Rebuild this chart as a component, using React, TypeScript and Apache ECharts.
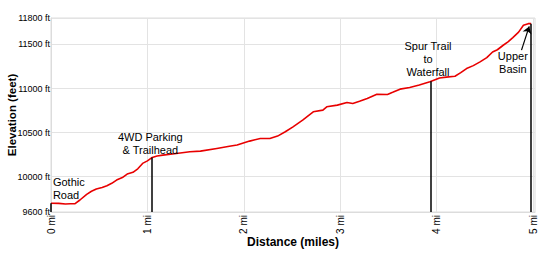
import React, { useEffect, useRef } from "react";
import * as echarts from "echarts";

const distance = [0, 0.08, 0.15, 0.2, 0.25, 0.3, 0.37, 0.42, 0.47, 0.53, 0.58, 0.63, 0.68, 0.74, 0.79, 0.85, 0.9, 0.95, 1.0, 1.05, 1.1, 1.16, 1.3, 1.44, 1.55, 1.72, 1.85, 1.93, 2.06, 2.17, 2.27, 2.35, 2.43, 2.51, 2.61, 2.72, 2.82, 2.86, 2.97, 3.07, 3.13, 3.2, 3.28, 3.38, 3.49, 3.55, 3.62, 3.72, 3.82, 3.93, 4.03, 4.1, 4.19, 4.25, 4.31, 4.38, 4.45, 4.52, 4.58, 4.63, 4.69, 4.74, 4.79, 4.85, 4.9, 4.95, 4.98];
const elevation = [9700, 9698, 9690, 9694, 9695, 9736, 9800, 9835, 9860, 9878, 9898, 9925, 9962, 9990, 10030, 10050, 10090, 10151, 10180, 10219, 10235, 10245, 10264, 10283, 10290, 10321, 10345, 10359, 10404, 10434, 10434, 10461, 10510, 10566, 10642, 10736, 10755, 10793, 10812, 10842, 10831, 10855, 10887, 10936, 10933, 10960, 10993, 11012, 11040, 11076, 11120, 11130, 11140, 11180, 11227, 11260, 11302, 11350, 11415, 11440, 11491, 11530, 11578, 11640, 11717, 11736, 11736];

const yTicks = [9600, 10000, 10500, 11000, 11500, 11800];
const xTicks = [0, 1, 2, 3, 4, 5];

const markerDistance = [0, 1.05, 3.94, 4.98];
const markerElevation = [9700, 10219, 11082, 11736];

const annotationText = ["Gothic\nRoad", "4WD Parking\n& Trailhead", "Spur Trail\nto\nWaterfall", "Upper\nBasin"];
const annotationDistance = [0.02, 1.03, 3.91, 4.79];
const annotationElevation = [9864, 10381, 11333, 11299];

const arrowFrom = [4.88, 11435];
const arrowTo = [4.96, 11705];

const FONT = "'Liberation Sans', Arial, sans-serif";

export default function App() {
  const ref = useRef<HTMLDivElement>(null);
  useEffect(() => {
    if (!ref.current) return;
    const chart = echarts.init(ref.current, undefined, { renderer: "svg" });
    const line = distance.map((d, i) => [d, elevation[i]]);
    chart.setOption({
      animation: false,
      textStyle: { fontFamily: FONT },
      grid: {
        left: 51,
        right: 15,
        top: 18,
        bottom: 45,
        show: true,
        borderColor: "#dcdcdc",
        borderWidth: 1,
        containLabel: false,
        outerBoundsMode: "none",
      },
      xAxis: {
        type: "value",
        min: 0,
        max: 5.02,
        name: "Distance (miles)",
        nameLocation: "middle",
        nameGap: 24,
        nameMoveOverlap: false,
        nameTextStyle: { fontSize: 12, fontWeight: "bold", color: "#000", fontFamily: FONT },
        axisLine: { show: true, lineStyle: { color: "#dcdcdc" } },
        axisTick: { show: false, customValues: xTicks },
        axisLabel: {
          customValues: xTicks,
          rotate: 90,
          fontSize: 10,
          color: "#000",
          margin: 3,
          formatter: (v: number) => `${v} mi`,
        },
        splitLine: { show: true, lineStyle: { color: "#e3e3e3", width: 1 } },
      },
      yAxis: {
        type: "value",
        min: 9600,
        max: 11800,
        name: "Elevation (feet)",
        nameLocation: "middle",
        nameGap: 33,
        nameMoveOverlap: false,
        nameTextStyle: { fontSize: 11.5, fontWeight: "bold", color: "#000", fontFamily: FONT },
        axisLine: { show: true, lineStyle: { color: "#dcdcdc" } },
        axisTick: { show: false, customValues: yTicks },
        axisLabel: {
          customValues: yTicks,
          fontSize: 9,
          color: "#000",
          margin: 1,
          formatter: (v: number) => `${v} ft`,
        },
        splitLine: { show: true, lineStyle: { color: "#e3e3e3", width: 1 } },
      },
      series: [
        {
          type: "line",
          data: line,
          symbol: "none",
          lineStyle: { color: "#e80000", width: 1.6 },
          z: 3,
        },
        {
          type: "line",
          data: [],
          markLine: {
            silent: true,
            symbol: ["none", "none"],
            label: { show: false },
            lineStyle: { color: "#000", width: 1.5, type: "solid" },
            data: markerDistance.map((d, i) => [
              { coord: [d, 9600] },
              { coord: [d, markerElevation[i]] },
            ]),
          },
          z: 4,
        },
        {
          type: "line",
          data: [],
          markLine: {
            silent: true,
            symbol: ["none", "arrow"],
            symbolSize: 7,
            label: { show: false },
            lineStyle: { color: "#000", width: 1.2, type: "solid" },
            data: [[{ coord: arrowFrom }, { coord: arrowTo }]],
          },
          markPoint: {
            silent: true,
            symbol: "circle",
            symbolSize: 0,
            data: annotationText.map((t, i) => ({
              coord: [annotationDistance[i], annotationElevation[i]],
              value: t,
              label: {
                show: true,
                position: "inside",
                align: i === 0 ? "left" : "center",
                verticalAlign: "middle",
                formatter: t,
                fontSize: 11,
                lineHeight: 13,
                color: "#000",
                fontFamily: FONT,
              },
            })),
          },
          z: 5,
        },
      ],
    });
    return () => chart.dispose();
  }, []);
  return (
    <div
      ref={ref}
      style={{ position: "fixed", left: 0, top: 0, width: 550, height: 257, background: "#fff" }}
    />
  );
}
